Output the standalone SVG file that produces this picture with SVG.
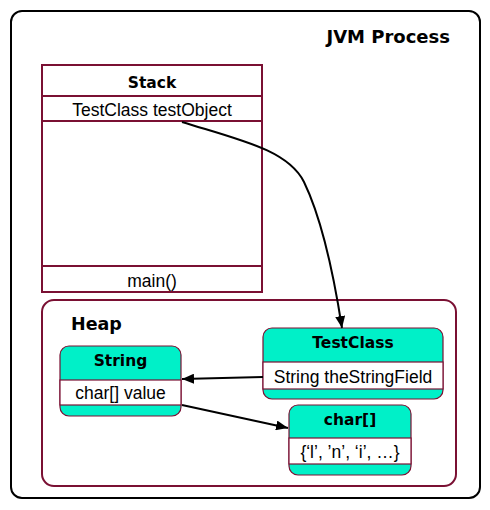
<svg xmlns="http://www.w3.org/2000/svg" width="490" height="510" viewBox="0 0 490 510">
<style>
.title{font-family:"DejaVu Sans","Liberation Sans",sans-serif;font-weight:bold;fill:#000}
.lbl{font-family:"Liberation Sans",Arial,sans-serif;font-size:17.5px;fill:#000}
.frame{fill:none;stroke:#7a1033;stroke-width:2}
.cls{fill:#00f0c8;stroke:#7a1033;stroke-width:1.2}
.row{fill:#fff;stroke:#7a1033;stroke-width:1.2}
.conn{fill:none;stroke:#000;stroke-width:2}
</style>
<defs>
<marker id="ah" viewBox="0 0 12 10" refX="12" refY="5" markerWidth="12" markerHeight="10" markerUnits="userSpaceOnUse" orient="auto">
<path d="M0,0 L12,5 L0,10 Z" fill="#000"/>
</marker>
</defs>
<rect width="490" height="510" fill="#fff"/>
<g id="jvm">
<rect x="11" y="11" width="469" height="487" rx="11" fill="#fff" stroke="#000" stroke-width="2"/>
<text class="title" x="450" y="43" font-size="18" text-anchor="end">JVM Process</text>
</g>
<g id="stack">
<rect class="frame" x="42" y="65" width="220" height="227" fill="#fff"/>
<line class="frame" x1="42" y1="96" x2="262" y2="96"/>
<line class="frame" x1="42" y1="121" x2="262" y2="121"/>
<line class="frame" x1="42" y1="266" x2="262" y2="266"/>
<text class="title" x="152" y="88" font-size="15.5" text-anchor="middle">Stack</text>
<text class="lbl" x="152" y="116" text-anchor="middle">TestClass testObject</text>
<text class="lbl" x="152" y="287" text-anchor="middle">main()</text>
</g>
<g id="heap">
<rect class="frame" x="42" y="300" width="414" height="186" rx="12"/>
<text class="title" x="71" y="330" font-size="17.5">Heap</text>
</g>
<g id="string">
<rect class="cls" x="60" y="346" width="121" height="70" rx="9"/>
<rect class="row" x="60" y="380" width="121" height="25"/>
<text class="title" x="120.5" y="366" font-size="15.5" text-anchor="middle">String</text>
<text class="lbl" x="120.5" y="399" text-anchor="middle">char[] value</text>
</g>
<g id="testclass">
<rect class="cls" x="263" y="328" width="180" height="71" rx="9"/>
<rect class="row" x="263" y="362" width="180" height="27"/>
<text class="title" x="353" y="348" font-size="15.5" text-anchor="middle">TestClass</text>
<text class="lbl" x="353" y="383" text-anchor="middle">String theStringField</text>
</g>
<g id="chararray">
<rect class="cls" x="289" y="405" width="122" height="70" rx="9"/>
<rect class="row" x="289" y="438" width="122" height="26"/>
<text class="title" x="350" y="425" font-size="15.5" text-anchor="middle">char[]</text>
<text class="lbl" x="350" y="458" text-anchor="middle">{‘l’, ’n’, ‘i’, …}</text>
</g>
<g id="connectors">
<path class="conn" d="M182,122 C240,140 288,150 304,182 C320,215 333,270 342,328" marker-end="url(#ah)"/>
<path class="conn" d="M263,377 L182,379" marker-end="url(#ah)"/>
<path class="conn" d="M182,405 L288,428" marker-end="url(#ah)"/>
</g>
</svg>
